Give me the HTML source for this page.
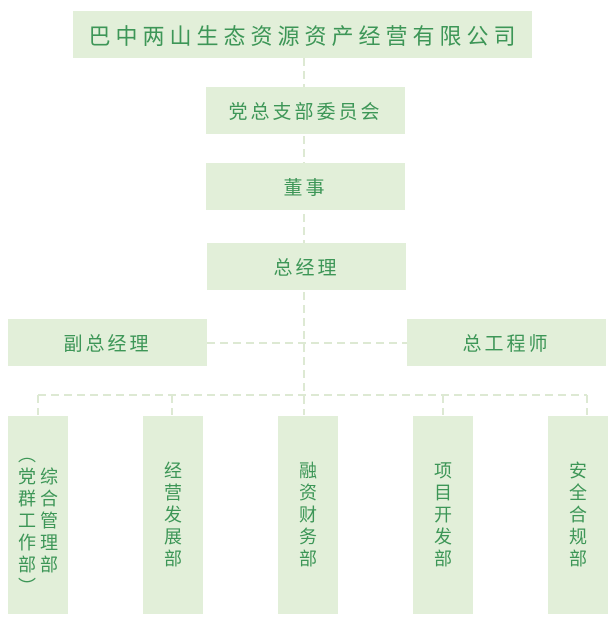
<!DOCTYPE html>
<html><head><meta charset="utf-8"><style>
body{margin:0;width:616px;height:626px;background:#fff;position:relative;overflow:hidden;font-family:"Liberation Sans","Noto Sans CJK SC",sans-serif;color:#3d9657}
.b{position:absolute;background:#e2efd9;display:flex;align-items:center;justify-content:center;font-size:19px;letter-spacing:3px}
.v{flex-direction:column;line-height:22px;font-size:18px;letter-spacing:0;text-align:center}
.c{display:flex;flex-direction:column;line-height:22px;font-size:18px;letter-spacing:0;text-align:center;width:20px}
svg{position:absolute;left:0;top:0}
</style></head><body>
<svg width="616" height="626"><g stroke="#dde9d3" stroke-width="2" stroke-dasharray="8,5" fill="none">
<line x1="304" y1="58" x2="304" y2="415"/>
<line x1="207" y1="343" x2="407" y2="343"/>
<line x1="38" y1="395" x2="587" y2="395"/>
<line x1="38" y1="395" x2="38" y2="415"/>
<line x1="172" y1="395" x2="172" y2="415"/>
<line x1="443" y1="395" x2="443" y2="415"/>
<line x1="587" y1="395" x2="587" y2="415"/>
</g></svg>
<div class="b" style="left:73px;top:11px;width:459px;height:47px;font-size:22px;letter-spacing:5px;padding-left:4px;box-sizing:border-box">巴中两山生态资源资产经营有限公司</div>
<div class="b" style="left:206px;top:87px;width:199px;height:47px">党总支部委员会</div>
<div class="b" style="left:206px;top:163px;width:199px;height:47px">董事</div>
<div class="b" style="left:207px;top:243px;width:199px;height:47px">总经理</div>
<div class="b" style="left:8px;top:319px;width:199px;height:47px">副总经理</div>
<div class="b" style="left:407px;top:319px;width:199px;height:47px">总工程师</div>
<div class="b" style="left:8px;top:416px;width:60px;height:198px;letter-spacing:0;align-items:flex-start;gap:2px">
<div class="c" style="margin-top:28px"><span>︵</span><span>党</span><span>群</span><span>工</span><span>作</span><span>部</span><span>︶</span></div>
<div class="c" style="margin-top:50px"><span>综</span><span>合</span><span>管</span><span>理</span><span>部</span></div>
</div>
<div class="b v" style="left:143px;top:416px;width:60px;height:198px">经<br>营<br>发<br>展<br>部</div>
<div class="b v" style="left:278px;top:416px;width:60px;height:198px">融<br>资<br>财<br>务<br>部</div>
<div class="b v" style="left:413px;top:416px;width:60px;height:198px">项<br>目<br>开<br>发<br>部</div>
<div class="b v" style="left:548px;top:416px;width:60px;height:198px">安<br>全<br>合<br>规<br>部</div>
</body></html>
